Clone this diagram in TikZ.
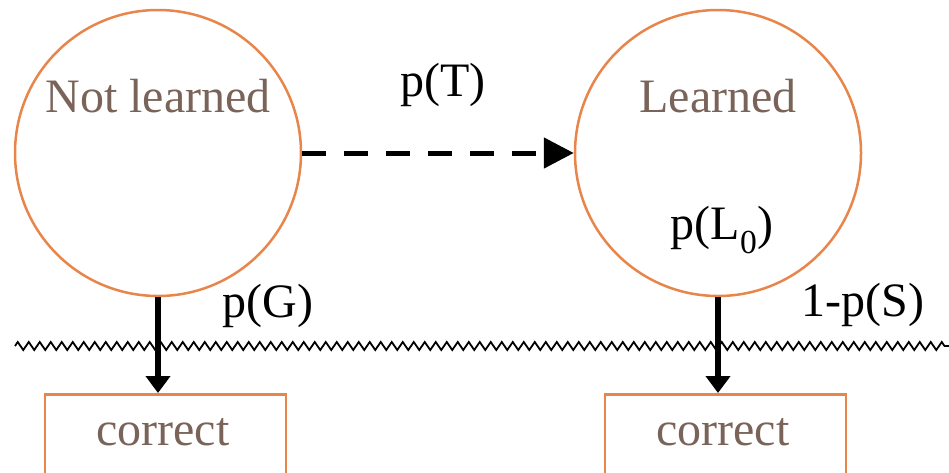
\documentclass[tikz,border=0pt]{standalone}
\usepackage{fontspec}
\setmainfont{Liberation Serif}
\usepackage{xcolor}
\usetikzlibrary{arrows.meta,decorations.pathmorphing}
\definecolor{stateline}{RGB}{232,133,74}
\definecolor{statefont}{RGB}{122,100,89}

\begin{document}
\begin{tikzpicture}[x=1pt,y=-1pt,
  state/.style={circle,draw=stateline,line width=2.5pt,minimum size=286pt,inner sep=0pt},
  outcome/.style={rectangle,draw=stateline,line width=2.5pt,minimum width=241pt,minimum height=110pt,inner sep=0pt},
  statetext/.style={text=statefont,font=\fontsize{48}{54}\selectfont,inner sep=0pt},
  prob/.style={text=black,font=\fontsize{48}{54}\selectfont,inner sep=0pt},
  wave/.style={line width=1.8pt,decorate,decoration={zigzag,segment length=11pt,amplitude=4pt}},
  emit/.style={line width=5.5pt,-{Triangle[length=17pt,width=24pt]}},
  learn/.style={line width=5pt,dash pattern=on 24pt off 18pt,-{Triangle[length=30pt,width=30pt]}}]
\useasboundingbox (0,0) rectangle (949,472);
% hidden states
\node[state] (notlearned) at (158,153) {};
\node[state] (learned) at (718,153) {};
\node[statetext] (nltext) at (158,96) {Not learned};
\node[statetext] (ltext) at (718,96) {Learned};
% observations
\node[outcome,anchor=north] (lcorrect) at (165.5,393) {};
\node[outcome,anchor=north] (rcorrect) at (725.5,393) {};
\node[statetext] (lctext) at (163,432) {correct};
\node[statetext] (rctext) at (723,432) {correct};
% divider between hidden and observed
\coordinate (wleft) at (15,346);
\coordinate (wright) at (949,346);
\draw[wave] (wleft) -- (wright);
% transitions
\draw[learn] (notlearned.east) -- (learned.west);
\draw[emit] (notlearned.south) -- (notlearned.south |- lcorrect.north);
\draw[emit] (learned.south) -- (learned.south |- rcorrect.north);
% probabilities
\node[prob] (transit) at (443,85) {p(T)};
\node[prob] (prior) at (722,230) {p(L\textsubscript{0})};
\node[prob] (guess) at (268,306) {p(G)};
\node[prob] (slip) at (863,305) {1-p(S)};
\end{tikzpicture}
\end{document}
